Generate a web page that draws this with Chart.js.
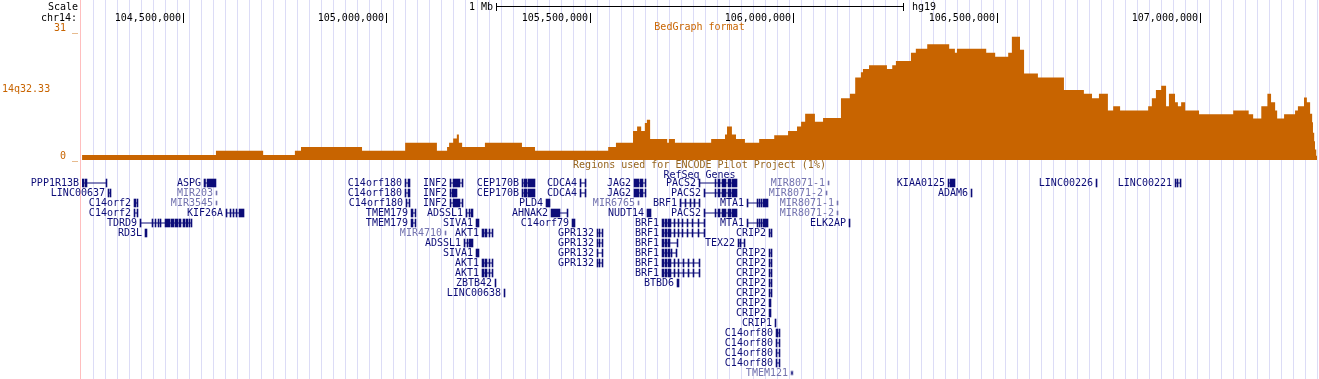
<!DOCTYPE html>
<html><head><meta charset="utf-8">
<script src="https://cdn.jsdelivr.net/npm/chart.js@4.4.1/dist/chart.umd.min.js"></script>
<style>
html,body{margin:0;padding:0;background:#fff;}
#wrap{position:relative;width:1319px;height:379px;overflow:hidden;}
canvas{position:absolute;left:0;top:0;}
</style></head>
<body><div id="wrap"><canvas id="c1" width="1319" height="379"></canvas><canvas id="c2" width="1319" height="379"></canvas></div>
<script>
// ---- view (Mb, hg19 chr14) ----
const viewStart = 104.2518, viewEnd = 107.2869;
const tickValues = [104.5, 105.0, 105.5, 106.0, 106.5, 107.0];
const tickLabels = ["104,500,000","105,000,000","105,500,000","106,000,000","106,500,000","107,000,000"];
const yMin = 0, yMax = 31;

// ---- BedGraph track: interval starts (Mb) and values ----
const bgStarts = [104.252,104.581,104.697,104.775,104.790,104.940,105.046,105.124,105.149,105.154,
  105.164,105.173,105.178,105.186,105.242,105.333,105.365,105.545,105.564,105.606,
  105.616,105.626,105.635,105.640,105.648,105.690,105.694,105.709,105.798,105.832,
  105.837,105.849,105.859,105.881,105.916,105.953,105.987,106.009,106.019,106.029,
  106.053,106.073,106.117,106.139,106.152,106.166,106.171,106.186,106.230,106.243,
  106.252,106.289,106.301,106.329,106.383,106.397,106.402,106.474,106.496,106.528,
  106.537,106.557,106.567,106.601,106.665,106.714,106.734,106.751,106.773,106.786,
  106.803,106.872,106.881,106.891,106.904,106.916,106.923,106.938,106.945,106.953,
  106.963,106.997,107.081,107.119,107.130,107.150,107.165,107.174,107.184,107.189,
  107.206,107.233,107.240,107.255,107.262,107.270,107.275,107.277,107.280,107.282,
  107.285,107.2869];
const bgValues = [1.2,2.2,1.2,2.2,3.1,2.2,4.1,2.2,3.1,4.1,
  5.1,6.1,4.1,3.1,4.1,3.1,2.2,3.1,4.1,6.9,
  8.0,6.9,8.8,9.6,5.0,4.1,5.0,4.1,5.0,6.1,
  8.0,6.1,5.0,4.1,5.0,5.9,6.9,8.0,9.1,11.0,
  9.1,10.0,14.7,15.8,19.7,20.9,21.7,22.6,21.7,22.6,
  23.6,25.6,26.5,27.6,26.5,25.6,26.5,25.6,24.6,25.6,
  29.4,26.3,20.6,19.7,16.7,15.8,14.7,15.8,11.8,12.8,
  11.8,12.8,14.7,16.7,17.7,12.8,15.8,13.8,12.8,13.8,
  11.8,10.9,11.8,10.9,9.9,12.8,15.8,13.8,11.8,9.9,
  10.9,11.8,12.8,14.9,13.8,11.0,9.0,6.5,4.5,2.5,
  1.0,1.0];

// ---- RefSeq genes ----
const exC14orf180a = [[105.0456,105.0481],[105.0530,105.0579]];
const exINF2a = [[105.1562,105.1587],[105.1636,105.1808],[105.1857,105.1882]];
const exCEP170B = [[105.3331,105.3356],[105.3381,105.3454],[105.3479,105.3651]];
const exCDCA4 = [[105.4757,105.4782],[105.4880,105.4905]];
const exJAG2 = [[105.6084,105.6207],[105.6232,105.6305],[105.6355,105.6379]];
const exPACS2b = [[105.7804,105.7829],[105.8075,105.8099],[105.8149,105.8198],[105.8247,105.8345],[105.8394,105.8468],[105.8493,105.8616]];
const exMTA1 = [[105.8861,105.8886],[105.9107,105.9132],[105.9156,105.9181],[105.9205,105.9230],[105.9255,105.9378]];
const exTMEM179 = [[105.0604,105.0653],[105.0702,105.0726]];
const exBRF1long = [[105.6772,105.6821],[105.6846,105.6895],[105.6920,105.6993],[105.7067,105.7092],[105.7165,105.7190],[105.7264,105.7288],[105.7387,105.7411],[105.7510,105.7534],[105.7657,105.7681],[105.7804,105.7829]];
const exBRF1mid = [[105.6772,105.6821],[105.6846,105.6895],[105.6920,105.6993],[105.7067,105.7092],[105.7165,105.7190],[105.7288,105.7313],[105.7411,105.7436],[105.7534,105.7558],[105.7681,105.7706]];
const exAKT1 = [[105.2348,105.2398],[105.2422,105.2471],[105.2520,105.2545],[105.2594,105.2619]];
const exGPR132 = [[105.5175,105.5199],[105.5224,105.5248],[105.5298,105.5322]];
const exSIVA1 = [[105.2201,105.2275]];
const exCRIP2 = [[105.9402,105.9427],[105.9451,105.9476]];
const exC14orf80 = [[105.9574,105.9598],[105.9648,105.9672]];

const geneNames = ["PPP1R13B","ASPG","C14orf180","INF2","CEP170B","CDCA4","JAG2","PACS2","MIR8071-1","KIAA0125","LINC00226","LINC00221",
  "LINC00637","MIR203","C14orf180","INF2","CEP170B","CDCA4","JAG2","PACS2","MIR8071-2","ADAM6",
  "C14orf2","MIR3545","C14orf180","INF2","PLD4","MIR6765","BRF1","MTA1","MIR8071-1",
  "C14orf2","KIF26A","TMEM179","ADSSL1","AHNAK2","NUDT14","PACS2","MIR8071-2",
  "TDRD9","TMEM179","SIVA1","C14orf79","BRF1","MTA1","ELK2AP",
  "RD3L","MIR4710","AKT1","GPR132","BRF1","CRIP2",
  "ADSSL1","GPR132","BRF1","TEX22",
  "SIVA1","GPR132","BRF1","CRIP2",
  "AKT1","GPR132","BRF1","CRIP2",
  "AKT1","BRF1","CRIP2",
  "ZBTB42","BTBD6","CRIP2",
  "LINC00638","CRIP2",
  "CRIP2","CRIP2","CRIP1","C14orf80","C14orf80","C14orf80","C14orf80","TMEM121"];
const geneRows = [0,0,0,0,0,0,0,0,0,0,0,0,
  1,1,1,1,1,1,1,1,1,1,
  2,2,2,2,2,2,2,2,2,
  3,3,3,3,3,3,3,3,
  4,4,4,4,4,4,4,
  5,5,5,5,5,5,
  6,6,6,6,
  7,7,7,7,
  8,8,8,8,
  9,9,9,
  10,10,10,
  11,11,
  12,13,14,15,16,17,18,19];
const geneLight = ["MIR8071-1","MIR8071-2","MIR203","MIR3545","MIR6765","MIR4710","TMEM121"];
const geneExons = [
  [[104.2518,104.2567],[104.2592,104.2641],[104.3108,104.3132]],
  [[104.5516,104.5553],[104.5590,104.5811]],
  exC14orf180a, exINF2a, exCEP170B, exCDCA4, exJAG2,
  [[105.7681,105.7706],[105.8075,105.8099],[105.8149,105.8198],[105.8247,105.8345],[105.8394,105.8468],[105.8493,105.8616]],
  [[106.0852,106.0877]],
  [[106.3801,106.3826],[106.3850,106.3973]],
  [[106.7438,106.7463]],
  [[106.9380,106.9405],[106.9429,106.9454],[106.9503,106.9528]],
  // row 1
  [[104.3157,104.3182],[104.3206,104.3231]],
  [[104.5811,104.5836]],
  exC14orf180a,
  [[105.1562,105.1587],[105.1611,105.1734]],
  exCEP170B, exCDCA4, exJAG2, exPACS2b,
  [[106.0803,106.0828]],
  [[106.4366,106.4391]],
  // row 2
  [[104.3796,104.3845],[104.3870,104.3894]],
  [[104.5811,104.5836]],
  [[105.0481,105.0505],[105.0554,105.0579]],
  exINF2a,
  [[105.3921,105.4020]],
  [[105.6182,105.6207]],
  [[105.7214,105.7239],[105.7337,105.7362],[105.7460,105.7485],[105.7558,105.7583],[105.7681,105.7706]],
  exMTA1,
  [[106.1073,106.1098]],
  // row 3
  [[104.3796,104.3821],[104.3870,104.3894]],
  [[104.6057,104.6082],[104.6155,104.6180],[104.6229,104.6254],[104.6303,104.6328],[104.6377,104.6500]],
  exTMEM179,
  [[105.1955,105.1980],[105.2029,105.2054],[105.2078,105.2127]],
  [[105.4044,105.4266],[105.4438,105.4462]],
  [[105.6403,105.6502]],
  exPACS2b,
  [[106.1073,106.1098]],
  // row 4
  [[104.3943,104.3968],[104.4238,104.4263],[104.4312,104.4337],[104.4386,104.4410],[104.4435,104.4460],[104.4558,104.4681],[104.4705,104.4779],[104.4804,104.4877],[104.4902,104.4951],[104.5000,104.5049],[104.5074,104.5123],[104.5148,104.5172],[104.5197,104.5221]],
  exTMEM179, exSIVA1,
  [[105.4560,105.4634]],
  exBRF1long, exMTA1,
  [[106.1368,106.1393]],
  // row 5
  [[104.4066,104.4115]],
  [[105.1439,105.1464]],
  exAKT1, exGPR132, exBRF1long, exCRIP2,
  // row 6
  [[105.1906,105.1931],[105.1980,105.2004],[105.2029,105.2127]],
  exGPR132,
  [[105.6772,105.6821],[105.6846,105.6895],[105.6920,105.6969],[105.7141,105.7165]],
  [[105.8640,105.8665],[105.8689,105.8714],[105.8788,105.8812]],
  // row 7
  exSIVA1,
  [[105.5175,105.5199],[105.5298,105.5322]],
  [[105.6772,105.6821],[105.6846,105.6895],[105.6920,105.6969],[105.6993,105.7018],[105.7116,105.7141]],
  exCRIP2,
  // row 8
  exAKT1, exGPR132, exBRF1mid, exCRIP2,
  // row 9
  exAKT1, exBRF1mid, exCRIP2,
  // row 10
  [[105.2668,105.2692]],
  [[105.7141,105.7190]],
  exCRIP2,
  // row 11
  [[105.2889,105.2914]],
  exCRIP2,
  // rows 12-19
  [[105.9402,105.9451]],
  [[105.9402,105.9451]],
  [[105.9549,105.9574]],
  [[105.9574,105.9623],[105.9648,105.9672]],
  exC14orf80, exC14orf80, exC14orf80,
  [[105.9942,105.9991]]
];

// ---- styles ----
const ORANGE = 'rgb(200,100,0)';
const NAVY = 'rgb(12,12,120)';
const LIGHTNAVY = 'rgb(115,115,175)';
const GUIDE = 'rgb(220,220,246)';
const FONT = "10px 'DejaVu Sans Mono'";

const bgPoints = bgStarts.map((x, i) => ({x: x, y: bgValues[i]}));

const guidePlugin = {
  id: 'guides',
  beforeDatasetsDraw(chart) {
    const c = chart.ctx, a = chart.chartArea;
    c.save();
    c.fillStyle = GUIDE;
    for (let x = a.left + 11; x <= a.right; x += 12) c.fillRect(Math.round(x), 0, 1, chart.height);
    c.fillStyle = 'rgb(255,190,190)';
    c.fillRect(a.left - 2, 0, 1, chart.height);
    c.restore();
  },
  afterDraw(chart) {
    const c = chart.ctx, a = chart.chartArea, xs = chart.scales.x, ys = chart.scales.y;
    c.save();
    c.font = FONT;
    c.textBaseline = 'middle';
    c.fillStyle = '#000';
    c.textAlign = 'right';
    c.fillText('Scale', 78, 7);
    c.fillText('chr14:', 77, 18);
    const mid = (viewStart + viewEnd) / 2;
    const b0 = Math.round(xs.getPixelForValue(mid - 0.5)), b1 = Math.round(xs.getPixelForValue(mid + 0.5));
    c.fillRect(b0, 6, b1 - b0, 1);
    c.fillRect(b0, 3, 1, 8);
    c.fillRect(b1, 3, 1, 8);
    c.fillText('1 Mb', b0 - 3, 7);
    c.textAlign = 'left';
    c.fillText('hg19', b1 + 9, 7);
    c.textAlign = 'right';
    tickValues.forEach((v, i) => {
      const px = Math.round(xs.getPixelForValue(v));
      c.fillRect(px, 13, 1, 10);
      c.fillText(tickLabels[i], px - 2, 18);
    });
    c.fillStyle = ORANGE;
    c.textAlign = 'center';
    c.fillText('BedGraph format', (a.left + a.right) / 2, 27);
    c.textAlign = 'right';
    c.textBaseline = 'alphabetic';
    c.fillText(yMax + ' _', 78, ys.getPixelForValue(yMax) + 1);
    c.fillText(yMin + ' _', 78, ys.getPixelForValue(yMin) - 1);
    c.textAlign = 'left';
    c.textBaseline = 'middle';
    c.fillText('14q32.33', 2, 89);
    c.textAlign = 'center';
    c.fillStyle = 'rgb(150,100,30)';
    c.fillText('Regions used for ENCODE Pilot Project (1%)', (a.left + a.right) / 2, 165);
    c.fillStyle = NAVY;
    c.fillText('RefSeq Genes', (a.left + a.right) / 2, 175);
    c.restore();
  }
};

new Chart(document.getElementById('c1'), {
  type: 'line',
  data: { datasets: [{
    data: bgPoints, stepped: 'before', fill: 'origin',
    backgroundColor: ORANGE, borderColor: ORANGE, borderWidth: 0,
    pointRadius: 0, tension: 0
  }]},
  options: {
    responsive: false, animation: false, devicePixelRatio: 1,
    layout: { padding: { left: 82, right: 2, top: 30, bottom: 219 } },
    scales: {
      x: { type: 'linear', min: viewStart, max: viewEnd, display: false },
      y: { type: 'linear', min: yMin, max: yMax, display: false }
    },
    plugins: { legend: { display: false }, tooltip: { enabled: false }, title: { display: false } }
  },
  plugins: [guidePlugin]
});

const intronData = [], exonDark = [], exonLight = [];
geneNames.forEach((n, i) => {
  const ex = geneExons[i];
  const s = Math.min(...ex.map(e => e[0])), e = Math.max(...ex.map(e => e[1]));
  const light = geneLight.includes(n);
  if (e - s > 0.003) intronData.push({ y: geneRows[i], x: [s, e] });
  ex.forEach(b => (light ? exonLight : exonDark).push({ y: geneRows[i], x: [b[0], b[1]] }));
});

const labelPlugin = {
  id: 'geneLabels',
  afterDatasetsDraw(chart) {
    const c = chart.ctx, xs = chart.scales.x, ys = chart.scales.y;
    c.save();
    c.font = FONT;
    c.textAlign = 'right';
    c.textBaseline = 'middle';
    geneNames.forEach((n, i) => {
      const s = Math.min(...geneExons[i].map(e => e[0]));
      c.fillStyle = geneLight.includes(n) ? LIGHTNAVY : NAVY;
      c.fillText(n, Math.round(xs.getPixelForValue(s)) - 3, ys.getPixelForValue(geneRows[i]) + 0.5);
    });
    c.restore();
  }
};

new Chart(document.getElementById('c2'), {
  type: 'bar',
  data: { datasets: [
    { data: intronData, backgroundColor: NAVY, barThickness: 1, borderWidth: 0, grouped: false, inflateAmount: 0 },
    { data: exonDark, backgroundColor: NAVY, barThickness: 8, borderWidth: 0, grouped: false, inflateAmount: 0.3 },
    { data: exonLight, backgroundColor: LIGHTNAVY, barThickness: 4, borderWidth: 0, grouped: false, inflateAmount: 0.3 }
  ]},
  options: {
    indexAxis: 'y', responsive: false, animation: false, devicePixelRatio: 1,
    layout: { padding: { left: 82, right: 2, top: 178, bottom: 1 } },
    scales: {
      x: { type: 'linear', min: viewStart, max: viewEnd, display: false, offset: false },
      y: { type: 'linear', min: -0.5, max: 19.5, reverse: true, display: false, offset: false }
    },
    plugins: { legend: { display: false }, tooltip: { enabled: false } }
  },
  plugins: [labelPlugin]
});
</script></body></html>
